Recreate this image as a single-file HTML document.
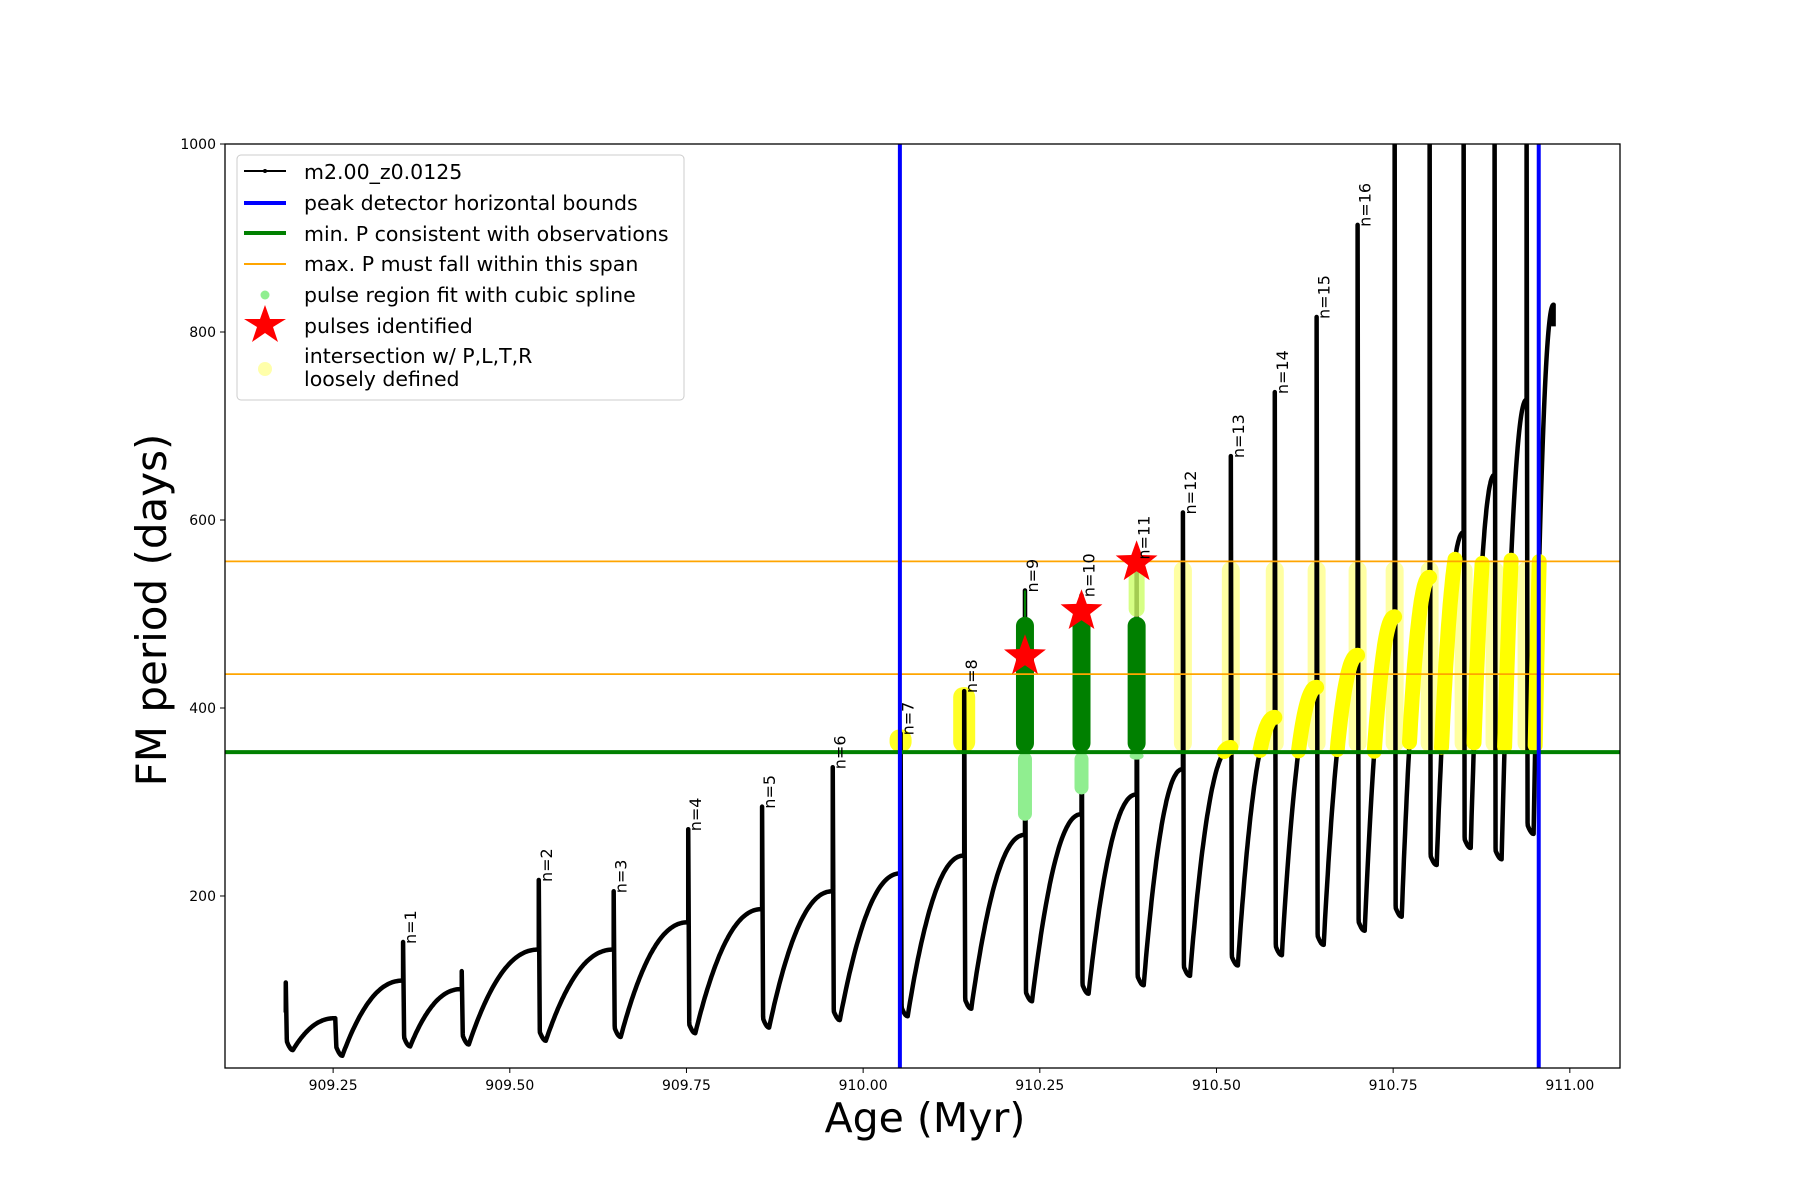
<!DOCTYPE html>
<html><head><meta charset="utf-8"><style>
body{margin:0;background:#fff}
svg{display:block;font-family:"DejaVu Sans","Liberation Sans",sans-serif}
</style></head><body>
<svg id="chart" width="1800" height="1200" viewBox="0 0 1800 1200" xmlns="http://www.w3.org/2000/svg">
<rect width="1800" height="1200" fill="#fff"/>
<g id="plot"></g>
<g id="axes"></g>
</svg>
<script>
const spikeAges=[909.183,909.253,909.349,909.432,909.541,909.647,909.7525,909.857,909.957,910.053,910.143,910.229,910.309,910.387,910.4525,910.5203,910.5825,910.6417,910.6997,910.7521,910.8016,910.8497,910.8935,910.9388];
const spikeTops=[108,70,151,120,217,205,271,295,337,373,418,525,520,560,608,668,736,816,914,1050,1050,1050,1050,1050];
const troughs=[36,30,40,42,46,50,54,60,68,72,80,88,96,105,115,126,137,148,163,178,233,251,239,266];
const peaks=[70,110,101,143,143,172,186,205,224,243,265,287,308,335,358,390,422,456,497,539,587,648,728,829];
const nLabels=[null,null,1,null,2,3,4,5,6,7,8,9,10,11,12,13,14,15,16,null,null,null,null,null];
const endAge=910.977;
const greenVal=353, orangeLow=436, orangeHigh=556;
const blueBounds=[910.052,910.956];
const starAges=[910.229,910.309,910.387];
const starVals=[455,503,555];
const xTicks=[909.25,909.5,909.75,910.0,910.25,910.5,910.75,911.0];
const yTicks=[200,400,600,800,1000];

const L=225,R=1620,T=144,B=1068;
const X0=909.097,X1=911.071,Y0=17,Y1=1000;
const xs=a=>L+(a-X0)/(X1-X0)*(R-L);
const ys=v=>B-(v-Y0)/(Y1-Y0)*(B-T);
const NS='http://www.w3.org/2000/svg';
const plot=document.getElementById('plot'), axes=document.getElementById('axes');
function mk(tag,attrs,parent){const e=document.createElementNS(NS,tag);for(const k in attrs)e.setAttribute(k,attrs[k]);(parent||plot).appendChild(e);return e;}

const defs=mk('defs',{});
const cp=mk('clipPath',{id:'clip'},defs);
mk('rect',{x:L,y:T,width:R-L,height:B-T},cp);
const g=mk('g',{'clip-path':'url(#clip)'});

const rises=[];
let d='';
for(let i=0;i<spikeAges.length;i++){
  const a=spikeAges[i];
  const next=i+1<spikeAges.length?spikeAges[i+1]:endAge;
  const prev=i>0?peaks[i-1]:troughs[i]+40;
  d+=(i===0?'M':'L')+xs(a)+','+ys(prev)+' L'+xs(a)+','+ys(spikeTops[i])+' L'+(xs(a)+1)+','+ys(troughs[i]+12);
  const ta=a+0.01;
  // dip to trough
  for(let k=1;k<=6;k++){const t=k/6;const ag=a+(ta-a)*t;const v=troughs[i]+12-12*Math.sin(t*Math.PI/2);d+=' L'+xs(ag).toFixed(1)+','+ys(v).toFixed(1);}
  const pts=[];
  for(let k=1;k<=50;k++){const t=k/50;const ag=ta+(next-ta)*t;const v=troughs[i]+(peaks[i]-troughs[i])*(1-Math.pow(1-t,2.2));pts.push([ag,v]);d+=' L'+xs(ag).toFixed(1)+','+ys(v).toFixed(1);}
  rises.push(pts);
}
d+=' L'+xs(endAge)+','+ys(806);

for(let i=14;i<spikeAges.length;i++){
  const top=Math.min(spikeTops[i],orangeHigh);
  const r=mk('rect',{x:xs(spikeAges[i])-9,y:ys(top),width:18,height:ys(greenVal)-ys(top),rx:9,fill:'#ffff55','fill-opacity':0.55},g);
  
  
}
for(let i=9;i<=10;i++){
  const top=Math.min(spikeTops[i],orangeHigh);
  const r=mk('rect',{x:xs(spikeAges[i])-11,y:ys(top)-4,width:22,height:ys(greenVal)-ys(top)+4,rx:10,fill:'#ffff00','fill-opacity':0.85},g);
  
  
}
const path=mk('path',{d:d,fill:'none',stroke:'#000','stroke-width':4.5,'stroke-linejoin':'round'},g);



rises.forEach((pts,i)=>{
  let seg=[];
  const flush=()=>{if(seg.length>1){const p=mk('polyline',{points:seg.join(' '),fill:'none',stroke:'#ffff00','stroke-width':15,'stroke-linecap':'round','stroke-linejoin':'round'},g);}seg=[];};
  pts.forEach(([a,v])=>{if(a>blueBounds[0]&&v>=greenVal&&v<=orangeHigh+4)seg.push(xs(a).toFixed(1)+','+ys(v).toFixed(1));else flush();});
  flush();
});

const lightLow=[280,308,345];
for(let j=0;j<3;j++){
  const i=11+j,x=xs(spikeAges[i]);
  const lg=mk('rect',{x:x-7,y:ys(greenVal),width:14,height:ys(lightLow[j])-ys(greenVal),rx:7,fill:'#90ee90'},g);
  
  
  const dg=mk('rect',{x:x-9,y:ys(497),width:18,height:ys(greenVal)-ys(497),rx:9,fill:'#008000'},g);
  
  
}
mk('line',{x1:xs(spikeAges[11]),x2:xs(spikeAges[11]),y1:ys(497),y2:ys(525),stroke:'#008000','stroke-width':2},g);
const ug=mk('rect',{x:xs(spikeAges[13])-8,y:ys(555),width:16,height:ys(497)-ys(555),rx:8,fill:'#ccff66','fill-opacity':0.8},g);



const gl=mk('line',{x1:L,x2:R,y1:ys(greenVal),y2:ys(greenVal),stroke:'#008000','stroke-width':4});

[orangeLow,orangeHigh].forEach((v,k)=>{const o=mk('line',{x1:L,x2:R,y1:ys(v),y2:ys(v),stroke:'#ffa500','stroke-width':1.8});});
blueBounds.forEach((a,k)=>{const b=mk('line',{x1:xs(a),x2:xs(a),y1:T,y2:B,stroke:'#0000ff','stroke-width':4});});

function starPts(cx,cy,ro,ri){const p=[];for(let k=0;k<10;k++){const r=k%2?ri:ro;const an=-Math.PI/2+k*Math.PI/5;p.push((cx+r*Math.cos(an)).toFixed(1)+','+(cy+r*Math.sin(an)).toFixed(1));}return p.join(' ');}
starAges.forEach((a,k)=>{const s=mk('polygon',{points:starPts(xs(a),ys(starVals[k]),22,9),fill:'#ff0000'});});

nLabels.forEach((n,i)=>{if(n===null)return;const x=xs(spikeAges[i])+13,y=ys(Math.min(spikeTops[i],1000))+2;
 const t=mk('text',{x:x,y:y,transform:'rotate(-90 '+x+' '+y+')','font-size':16,fill:'#000'});t.textContent='n='+n;
 });

mk('rect',{x:L,y:T,width:R-L,height:B-T,fill:'none',stroke:'#000','stroke-width':1.3},axes);
xTicks.forEach(v=>{const x=xs(v);mk('line',{x1:x,x2:x,y1:B,y2:B+5,stroke:'#000'},axes);const t=mk('text',{x:x,y:B+22,'text-anchor':'middle','font-size':14},axes);t.textContent=v.toFixed(2);});
yTicks.forEach(v=>{const y=ys(v);mk('line',{x1:L-5,x2:L,y1:y,y2:y,stroke:'#000'},axes);const t=mk('text',{x:L-9,y:y+5,'text-anchor':'end','font-size':14},axes);t.textContent=v;});
</script>
<svg style="position:absolute;left:0;top:0" width="1800" height="1200">
<text x="925" y="1132" text-anchor="middle" font-size="41" font-family="DejaVu Sans, Liberation Sans, sans-serif">Age (Myr)</text>
<text x="166" y="610" text-anchor="middle" font-size="42" font-family="DejaVu Sans, Liberation Sans, sans-serif" transform="rotate(-90 166 610)">FM period (days)</text>
<g font-family="DejaVu Sans, Liberation Sans, sans-serif" font-size="20.5">
<rect x="237" y="155" width="447" height="245" rx="4" fill="#fff" fill-opacity="0.85" stroke="#ccc"/>
<line x1="244" x2="286" y1="171" y2="171" stroke="#000" stroke-width="2"/><circle cx="265" cy="171" r="2"/>
<text x="304" y="179">m2.00_z0.0125</text>
<line x1="244" x2="286" y1="203" y2="203" stroke="#00f" stroke-width="4"/>
<text x="304" y="210">peak detector horizontal bounds</text>
<line x1="244" x2="286" y1="233" y2="233" stroke="#008000" stroke-width="4"/>
<text x="304" y="241">min. P consistent with observations</text>
<line x1="244" x2="286" y1="264" y2="264" stroke="#ffa500" stroke-width="2"/>
<text x="304" y="271">max. P must fall within this span</text>
<circle cx="265" cy="295" r="4.5" fill="#90ee90"/>
<text x="304" y="302">pulse region fit with cubic spline</text>
<polygon points="265,305 270,319 286,319 273,327 278,342 265,333 252,342 257,327 244,319 260,319" fill="#f00"/>
<text x="304" y="333">pulses identified</text>
<circle cx="265" cy="369" r="7" fill="#ffffaa"/>
<text x="304" y="363">intersection w/ P,L,T,R</text>
<text x="304" y="386">loosely defined</text>
</g>
</svg>
</body></html>
